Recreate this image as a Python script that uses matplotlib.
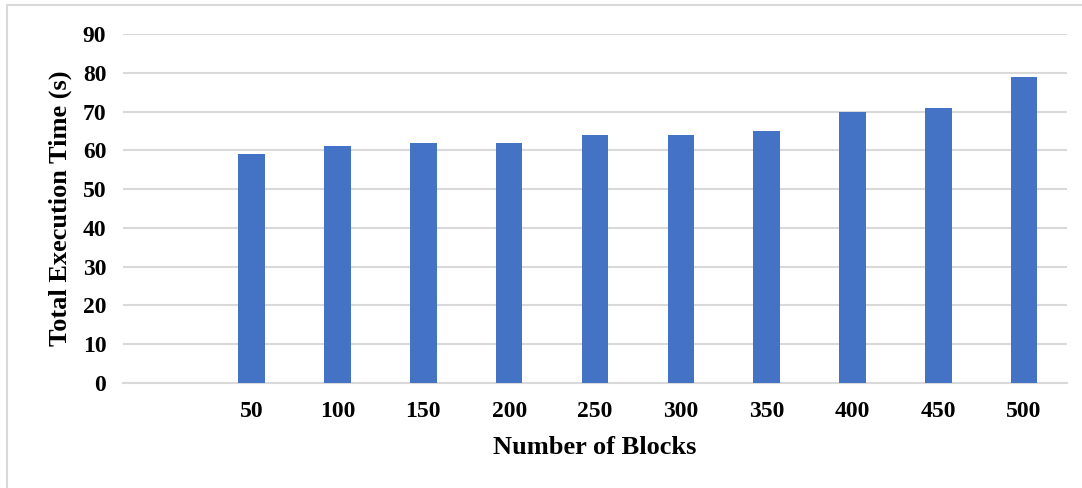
import matplotlib
matplotlib.use("Agg")
import matplotlib.pyplot as plt
import numpy as np
from matplotlib.lines import Line2D

categories = ["", "50", "100", "150", "200", "250", "300", "350", "400", "450", "500"]
exec_time = [np.nan, 59, 61, 62, 62, 64, 64, 65, 70, 71, 79]
y_ticks = [0, 10, 20, 30, 40, 50, 60, 70, 80, 90]

plt.rcParams["font.family"] = ["Liberation Serif", "DejaVu Serif"]
plt.rcParams["font.weight"] = "bold"

fig = plt.figure(figsize=(10.82, 4.88), dpi=100)
ax = fig.add_axes([0.1137, 0.2152, 0.8724, 0.7151])

x = np.arange(len(categories))
ax.bar(x, exec_time, width=0.31, color="#4472C4", zorder=3)

ax.set_xlim(-0.5, len(categories) - 0.5)
ax.set_ylim(0, 90)
ax.set_yticks(y_ticks)
ax.set_xticks(x)
ax.set_xticklabels(categories)

ax.grid(axis="y", color="#d9d9d9", linewidth=1.5, zorder=0)
for side in ("left", "right", "top"):
    ax.spines[side].set_visible(False)
ax.spines["bottom"].set_color("#d9d9d9")
ax.spines["bottom"].set_linewidth(1.5)
ax.tick_params(axis="both", length=0, labelsize=17)
ax.tick_params(axis="y", pad=12)
ax.tick_params(axis="x", pad=13)
for lbl in ax.get_xticklabels() + ax.get_yticklabels():
    lbl.set_fontweight("bold")

ax.set_xlabel("Number of Blocks", fontsize=19, fontweight="bold", labelpad=10)
ax.set_ylabel("Total Execution Time (s)", fontsize=19, fontweight="bold", labelpad=8)

# chart-area border (left and top edges)
fig.add_artist(Line2D([7 / 1082, 7 / 1082], [0, 1 - 5 / 488], transform=fig.transFigure,
                      color="#d9d9d9", linewidth=1.5))
fig.add_artist(Line2D([7 / 1082, 1], [1 - 5 / 488, 1 - 5 / 488], transform=fig.transFigure,
                      color="#d9d9d9", linewidth=1.5))

fig.savefig("out.png", dpi=100)
